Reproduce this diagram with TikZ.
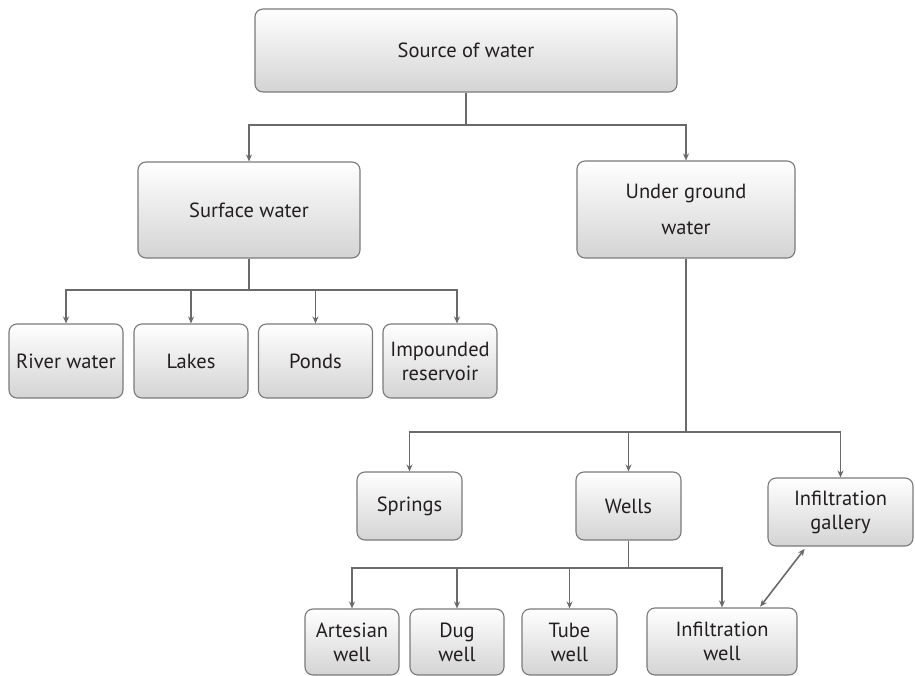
\documentclass[tikz,border=0pt]{standalone}
\usepackage{fontspec}
\setmainfont{PT Sans}
\usetikzlibrary{arrows.meta,calc}
\definecolor{linegray}{HTML}{6A6A6A}
\definecolor{boxgray}{HTML}{7A7A7A}
\definecolor{txt}{HTML}{231F20}
\begin{document}
\begin{tikzpicture}[x=1pt,y=-1pt,
  box/.style={draw=boxgray, line width=1.1pt, rounded corners=8pt,
    top color=white, bottom color=black!17, inner sep=0pt,
    align=center, text=txt, font=\fontsize{20.5}{24}\selectfont},
  conn/.style={draw=linegray, line width=1.6pt,
    -{Stealth[length=7pt,width=6pt]}},
  dconn/.style={draw=linegray, line width=1.6pt,
    {Stealth[length=7pt,width=6pt]}-{Stealth[length=7pt,width=6pt]}}]
\useasboundingbox (0,0) rectangle (915,676);
% nodes
\node[box, minimum width=422pt, minimum height=83pt] (src) at (466,50.5) {Source of water};
\node[box, minimum width=222pt, minimum height=96pt] (surf) at (249,210) {Surface water};
\node[box, minimum width=218pt, minimum height=97pt] (under) at (686,209.5) {Under ground\\[12pt]water};
\node[box, minimum width=114pt, minimum height=74pt] (river) at (66,361) {River water};
\node[box, minimum width=114pt, minimum height=74pt] (lakes) at (191,361) {Lakes};
\node[box, minimum width=114pt, minimum height=74pt] (ponds) at (315.5,361) {Ponds};
\node[box, minimum width=114pt, minimum height=74pt] (imp) at (440,361) {Impounded\\reservoir};
\node[box, minimum width=105pt, minimum height=68pt] (springs) at (409.5,506) {Springs};
\node[box, minimum width=105pt, minimum height=68pt] (wells) at (628.5,506) {Wells};
\node[box, minimum width=145pt, minimum height=68pt] (gallery) at (840.5,512) {Infiltration\\gallery};
\node[box, minimum width=94pt, minimum height=66pt] (artesian) at (352,642) {Artesian\\well};
\node[box, minimum width=94pt, minimum height=66pt] (dug) at (457,642) {Dug\\well};
\node[box, minimum width=95pt, minimum height=66pt] (tube) at (569.5,642) {Tube\\well};
\node[box, minimum width=150pt, minimum height=67pt] (infwell) at (722,641.5) {Infiltration\\well};
% bus coordinates
\coordinate (b1) at (466,125);
\coordinate (b2) at (249,290);
\coordinate (b3) at (686,432);
\coordinate (b4) at (628.5,568);
% connectors
\draw[conn] (src.south) -- (b1) -| (surf.north);
\draw[conn] (b1) -| (under.north);
\draw[conn] (surf.south) -- (b2) -| (river.north);
\draw[conn] (b2) -| (lakes.north);
\draw[conn] (b2) -| (ponds.north);
\draw[conn] (b2) -| ($(imp.north)+(17,0)$);
\draw[conn] (under.south) -- (b3) -| (springs.north);
\draw[conn] (b3) -| (wells.north);
\draw[conn] (b3) -| (gallery.north);
\draw[conn] (wells.south) -- (b4) -| (artesian.north);
\draw[conn] (b4) -| (dug.north);
\draw[conn] (b4) -| (tube.north);
\draw[conn] (b4) -| (infwell.north);
\draw[dconn, shorten <=3pt, shorten >=1pt] ($(gallery.south west)+(39,0)$) -- ($(infwell.north east)+(-38,0)$);
\end{tikzpicture}
\end{document}
